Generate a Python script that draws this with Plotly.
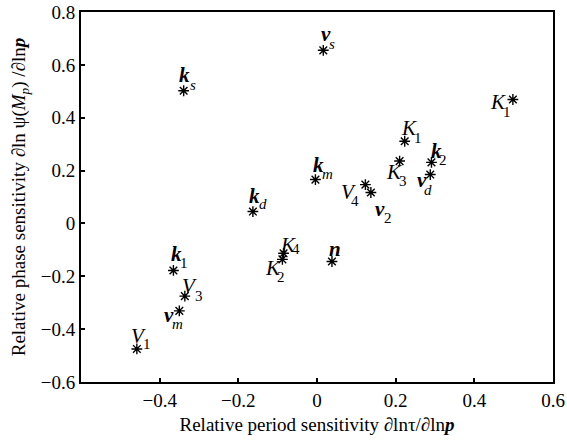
"""
Relative period vs. relative phase sensitivity scatter, one starred point per parameter.
"""

import plotly.graph_objects as go

# ── data ────────────────────────────────────────────────────────────────
names = ["vs", "ks", "K1r", "K1", "K3", "k2", "vd", "km", "V4", "v2",
         "kd", "K4", "K2", "n", "k1", "V3", "vm", "V1"]
period_sens = [0.016, -0.339, 0.498, 0.223, 0.210, 0.291, 0.288, -0.004, 0.123, 0.137,
               -0.163, -0.085, -0.088, 0.038, -0.365, -0.336, -0.350, -0.458]
phase_sens = [0.655, 0.502, 0.469, 0.311, 0.236, 0.231, 0.185, 0.166, 0.147, 0.117,
              0.045, -0.113, -0.136, -0.144, -0.178, -0.275, -0.331, -0.475]
main_labels = ["<b><i>v</i></b>", "<b><i>k</i></b>", "<i>K</i>", "<i>K</i>", "<i>K</i>",
               "<b><i>k</i></b>", "<b><i>v</i></b>", "<b><i>k</i></b>", "<i>V</i>",
               "<b><i>v</i></b>", "<b><i>k</i></b>", "<i>K</i>", "<i>K</i>",
               "<b><i>n</i></b>", "<b><i>k</i></b>", "<i>V</i>", "<b><i>v</i></b>", "<i>V</i>"]
sub_labels = ["<i>s</i>", "<i>s</i>", "1", "1", "3", "2", "<i>d</i>", "<i>m</i>", "4", "2",
              "<i>d</i>", "4", "2", "", "1", "3", "<i>m</i>", "1"]

x_ticks = [-0.4, -0.2, 0, 0.2, 0.4, 0.6]
y_ticks = [-0.6, -0.4, -0.2, 0, 0.2, 0.4, 0.6, 0.8]

# label placement (pixel offsets from the star): (main dx, dy, sub dx, dy)
_OFFSETS = {
    "vs": (3, -16, 9, -6), "ks": (1, -16, 9, -6), "K1r": (-15, 3, -6, 13),
    "K1": (4, -13, 13, -3), "K3": (-6, 11, 3, 20), "k2": (5, -11, 12, -2),
    "vd": (-8, 5, -2, 15), "km": (3, -15, 12, -6), "V4": (-17, 7, -10, 16),
    "v2": (9, 16, 17, 25), "kd": (2, -16, 10, -8), "K4": (4, -8, 12, -4),
    "K2": (-9, 9, -1, 18), "n": (3, -12, 0, 0), "k1": (3, -16, 11, -7),
    "V3": (5, -10, 14, 0), "vm": (-10, 4, -2, 13), "V1": (2, -13, 10, -5),
}

_FONT = "Liberation Serif, Times New Roman, serif"

fig = go.Figure()
fig.add_trace(go.Scatter(
    x=period_sens, y=phase_sens, mode="markers",
    marker=dict(symbol="asterisk-open", size=9, color="black",
                line=dict(color="black", width=1.4)),
    showlegend=False, hoverinfo="skip",
))

for nm, x, y, m, s in zip(names, period_sens, phase_sens, main_labels, sub_labels):
    mdx, mdy, sdx, sdy = _OFFSETS[nm]
    fig.add_annotation(x=x, y=y, text=m, showarrow=False, xshift=mdx, yshift=-mdy,
                       font=dict(family=_FONT, size=21, color="black"))
    if s:
        fig.add_annotation(x=x, y=y, text=s, showarrow=False, xshift=sdx, yshift=-sdy,
                           font=dict(family=_FONT, size=15, color="black"))

_axis = dict(showline=True, linewidth=2, linecolor="black", mirror=True,
             ticks="inside", ticklen=4, tickwidth=1.5, tickcolor="black",
             showgrid=False, zeroline=False, automargin=False,
             ticklabeloverflow="allow",
             tickfont=dict(family=_FONT, size=19, color="black"))

fig.update_xaxes(range=[-0.6, 0.6], tickvals=x_ticks, **_axis,
                 title=dict(text="Relative period sensitivity ∂lnτ/∂ln<b><i>p</i></b>",
                            font=dict(family=_FONT, size=19, color="black"), standoff=8))
fig.update_yaxes(range=[-0.6, 0.8], tickvals=y_ticks, **_axis,
                 title=dict(text="Relative phase sensitivity ∂ln ψ(<i>M</i><sub><i>p</i></sub>) /∂ln<b><i>p</i></b>",
                            font=dict(family=_FONT, size=19, color="black"), standoff=10))

fig.update_layout(
    width=567, height=441,
    margin=dict(l=81, r=14, t=12, b=59),
    paper_bgcolor="white", plot_bgcolor="white",
    font=dict(family=_FONT, color="black"),
)

# drop the default 8px page margin so the figure sits at the window's corner
fig.write_html("out.html", config={"displayModeBar": False},
               post_script="document.body.style.margin='0';")
